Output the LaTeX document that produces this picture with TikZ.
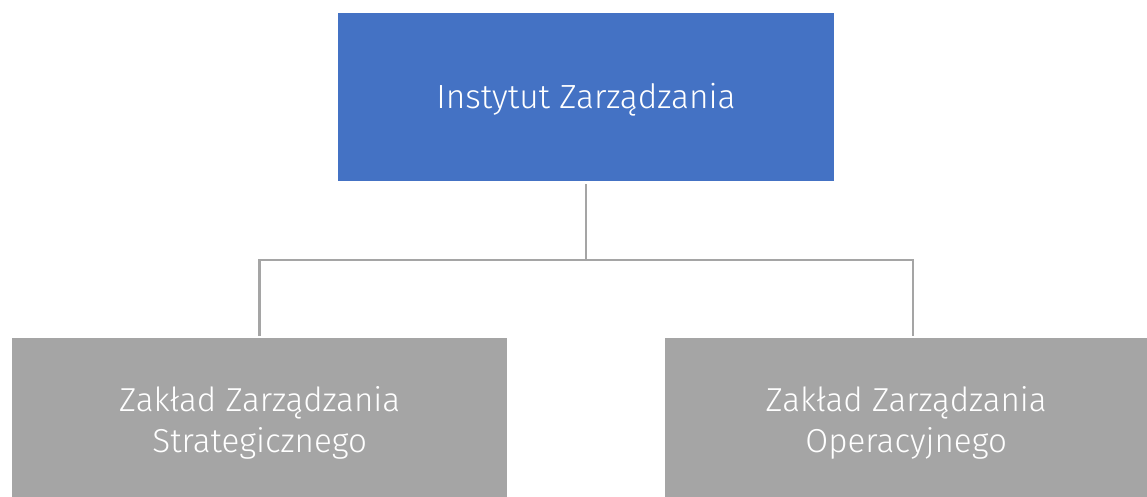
\documentclass[tikz,border=0pt]{standalone}
\usepackage{fontspec}
\setmainfont{Fira Sans}[UprightFont=* Light]
\begin{document}
\begin{tikzpicture}[x=1pt,y=-1pt,
  boxa/.style={draw=none,fill=topblue,inner sep=0pt},
  boxb/.style={draw=none,fill=subgray,inner sep=0pt},
  txta/.style={text=white,inner sep=0pt,align=center,font=\fontsize{33.5}{41}\selectfont},
  txtb/.style={text=white,inner sep=0pt,align=center,font=\fontsize{33.2}{41}\selectfont},
  conn/.style={draw=linegray,line width=2.5pt}]
\definecolor{topblue}{HTML}{4472C4}
\definecolor{subgray}{HTML}{A5A5A5}
\definecolor{linegray}{HTML}{A5A5A5}
\useasboundingbox (0,0) rectangle (1147,497);
\node[boxa,minimum width=496pt,minimum height=168pt,
  label={[txta,yshift=-3pt]center:Instytut Zarządzania}] (top) at (586,97) {};
\node[boxb,minimum width=495pt,minimum height=159pt,anchor=north west,
  label={[txtb,yshift=-5pt]center:Zakład Zarządzania\\Strategicznego}] (left) at (12,338) {};
\node[boxb,minimum width=482pt,minimum height=159pt,anchor=north west,
  label={[txtb,yshift=-5pt]center:Zakład Zarządzania\\Operacyjnego}] (right) at (665,338) {};
\coordinate (mid) at (586,260);
\draw[conn] (top.south) ++(0,3) -- (mid);
\draw[conn] (259.5,336) |- (mid) -| (913,336);
\end{tikzpicture}
\end{document}
